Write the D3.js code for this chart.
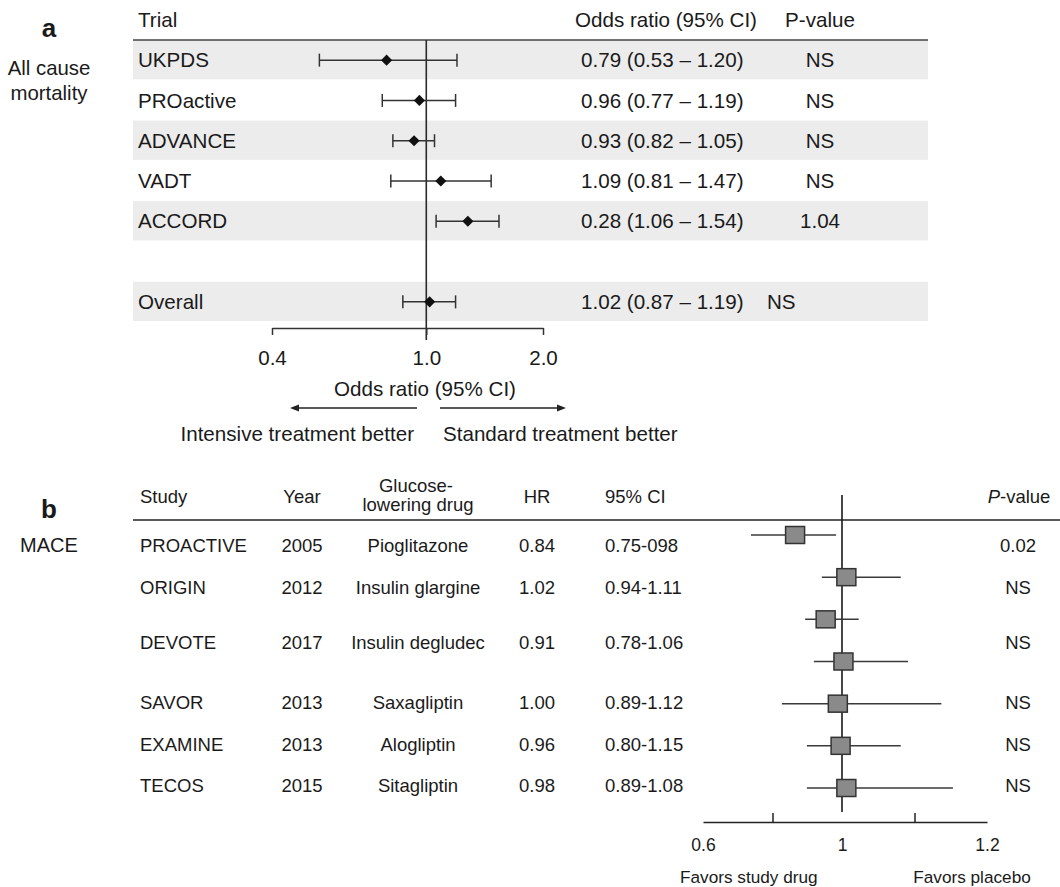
<!DOCTYPE html>
<html>
<head>
<meta charset="utf-8">
<script src="https://cdn.jsdelivr.net/npm/d3@7"></script>
<style>
  html, body { margin: 0; padding: 0; background: #fff; }
  svg { display: block; font-family: "Liberation Sans", Arial, Helvetica, sans-serif; }
  text { fill: #1a1a1a; }
</style>
</head>
<body>
<svg id="chart" width="1060" height="887"></svg>
<script>
// ---- Panel a: all-cause mortality, intensive vs standard glucose control ----
const trials   = ["UKPDS", "PROactive", "ADVANCE", "VADT", "ACCORD", "", "Overall"];
const orEst    = [0.79, 0.96, 0.93, 1.09, 1.28, null, 1.02];
const orLow    = [0.53, 0.77, 0.82, 0.81, 1.06, null, 0.87];
const orHigh   = [1.20, 1.19, 1.05, 1.47, 1.54, null, 1.19];
const orText   = ["0.79 (0.53 – 1.20)", "0.96 (0.77 – 1.19)", "0.93 (0.82 – 1.05)",
                  "1.09 (0.81 – 1.47)", "0.28 (1.06 – 1.54)", "", "1.02 (0.87 – 1.19)"];
const pTextA   = ["NS", "NS", "NS", "NS", "1.04", "", "NS"];
const orTicks  = [0.4, 1.0, 2.0];

// ---- Panel b: MACE in glucose-lowering drug trials ----
const studies  = ["PROACTIVE", "ORIGIN", "DEVOTE", "SAVOR", "EXAMINE", "TECOS"];
const years    = ["2005", "2012", "2017", "2013", "2013", "2015"];
const drugs    = ["Pioglitazone", "Insulin glargine", "Insulin degludec", "Saxagliptin", "Alogliptin", "Sitagliptin"];
const hrText   = ["0.84", "1.02", "0.91", "1.00", "0.96", "0.98"];
const ciText   = ["0.75-098", "0.94-1.11", "0.78-1.06", "0.89-1.12", "0.80-1.15", "0.89-1.08"];
const pTextB   = ["0.02", "NS", "NS", "NS", "NS", "NS"];
// hazard ratios and 95% CI of the plotted markers
const hrEst    = [0.865, 1.006, 0.953, 1.002, 0.988, 0.996, 1.006];
const hrLow    = [0.738, 0.942, 0.894, 0.919, 0.827, 0.899, 0.899];
const hrHigh   = [0.983, 1.081, 1.023, 1.091, 1.137, 1.081, 1.153];
const hrLabelTicks = [0.6, 1, 1.2];
const hrMinorTicks = [0.8, 1.1];

const svg = d3.select("#chart");
const INK = "#1a1a1a";
const LINE = "#2a2a2a";

// ================= Panel a =================
const ga = svg.append("g");
const xA = d3.scaleLog().domain([0.4, 2]).range([272, 543]);
const yA = d3.scaleBand().domain(d3.range(trials.length)).range([40, 322]);
const fsA = 20.6;

ga.append("text").attr("x", 49).attr("y", 37).attr("text-anchor", "middle")
  .attr("font-size", 26).attr("font-weight", "bold").text("a");
ga.append("text").attr("x", 49).attr("y", 75).attr("text-anchor", "middle")
  .attr("font-size", 20.4).text("All cause");
ga.append("text").attr("x", 49).attr("y", 100).attr("text-anchor", "middle")
  .attr("font-size", 20.4).text("mortality");

// alternate row shading
ga.selectAll("rect.band")
  .data(d3.range(trials.length).filter(i => i % 2 === 0))
  .join("rect").attr("class", "band")
  .attr("x", 133).attr("width", 928 - 133)
  .attr("y", i => yA(i)).attr("height", yA.bandwidth() - 1)
  .attr("fill", "#ececec");

// header
ga.append("text").attr("x", 138).attr("y", 27).attr("font-size", fsA).text("Trial");
ga.append("text").attr("x", 575).attr("y", 27).attr("font-size", fsA).text("Odds ratio (95% CI)");
ga.append("text").attr("x", 820).attr("y", 27).attr("text-anchor", "middle").attr("font-size", fsA).text("P-value");
ga.append("line").attr("x1", 133).attr("x2", 928).attr("y1", 40).attr("y2", 40)
  .attr("stroke", "#444").attr("stroke-width", 1.5);

// table columns
const rowY = i => yA(i) + yA.bandwidth() / 2;
ga.selectAll("text.trial").data(trials).join("text").attr("class", "trial")
  .attr("x", 138).attr("y", (d, i) => rowY(i)).attr("dy", "0.35em")
  .attr("font-size", fsA).text(d => d);
ga.selectAll("text.or").data(orText).join("text").attr("class", "or")
  .attr("x", 581).attr("y", (d, i) => rowY(i)).attr("dy", "0.35em")
  .attr("font-size", fsA).text(d => d);
ga.selectAll("text.pa").data(pTextA).join("text").attr("class", "pa")
  .attr("x", (d, i) => i === trials.length - 1 ? 767 : 820)
  .attr("text-anchor", (d, i) => i === trials.length - 1 ? "start" : "middle")
  .attr("y", (d, i) => rowY(i)).attr("dy", "0.35em")
  .attr("font-size", fsA).text(d => d);

// reference line at OR = 1
ga.append("line").attr("x1", xA(1)).attr("x2", xA(1)).attr("y1", 40).attr("y2", 340)
  .attr("stroke", LINE).attr("stroke-width", 1.6);

// confidence intervals with end caps, diamonds for estimates
const rowsA = d3.range(trials.length).filter(i => orEst[i] != null);
const ci = ga.selectAll("g.ci").data(rowsA).join("g").attr("class", "ci")
  .attr("stroke", "#333").attr("stroke-width", 1.5);
ci.append("line").attr("x1", i => xA(orLow[i])).attr("x2", i => xA(orHigh[i]))
  .attr("y1", rowY).attr("y2", rowY);
ci.append("line").attr("x1", i => xA(orLow[i])).attr("x2", i => xA(orLow[i]))
  .attr("y1", i => rowY(i) - 6.5).attr("y2", i => rowY(i) + 6.5);
ci.append("line").attr("x1", i => xA(orHigh[i])).attr("x2", i => xA(orHigh[i]))
  .attr("y1", i => rowY(i) - 6.5).attr("y2", i => rowY(i) + 6.5);
const diamond = d3.symbol(d3.symbolSquare, 62);
ga.selectAll("path.est").data(rowsA).join("path").attr("class", "est")
  .attr("d", diamond)
  .attr("transform", i => `translate(${xA(orEst[i])},${rowY(i)}) rotate(45)`)
  .attr("fill", "#111");

// x axis
const axA = ga.append("g").attr("transform", "translate(0,328)")
  .call(d3.axisBottom(xA).tickValues(orTicks).tickFormat(d3.format(".1f"))
    .tickSizeInner(7).tickSizeOuter(0).tickPadding(15));
axA.attr("font-family", null).attr("font-size", null);
axA.select(".domain").attr("stroke", "#333").attr("stroke-width", 1.5);
axA.selectAll(".tick line").attr("stroke", "#333").attr("stroke-width", 1.5);
axA.selectAll(".tick text").attr("font-size", fsA).attr("fill", INK);

ga.append("text").attr("x", 425).attr("y", 396).attr("text-anchor", "middle")
  .attr("font-size", fsA).text("Odds ratio (95% CI)");

// direction arrows
ga.append("line").attr("x1", 417).attr("x2", 297).attr("y1", 408).attr("y2", 408)
  .attr("stroke", "#222").attr("stroke-width", 1.5);
ga.append("path").attr("d", "M290,408L299,404.5L299,411.5Z").attr("fill", "#222");
ga.append("line").attr("x1", 440).attr("x2", 559).attr("y1", 408).attr("y2", 408)
  .attr("stroke", "#222").attr("stroke-width", 1.5);
ga.append("path").attr("d", "M566,408L557,404.5L557,411.5Z").attr("fill", "#222");
ga.append("text").attr("x", 414).attr("y", 441).attr("text-anchor", "end")
  .attr("font-size", fsA).text("Intensive treatment better");
ga.append("text").attr("x", 443).attr("y", 441)
  .attr("font-size", fsA).text("Standard treatment better");

// ================= Panel b =================
const gb = svg.append("g");
const fsB = 18.5;
const xB = d3.scaleLinear().domain([0.6, 1, 1.2]).range([703, 842, 987]);
const yB = d3.scaleLinear().domain([0, hrEst.length - 1]).range([535, 788]);
// table rows sit on fractional positions of the same vertical scale
const textSlots = [0.24, 1.23, 2.54, 3.96, 4.96, 5.93];
const rowYB = i => yB(textSlots[i]);

gb.append("text").attr("x", 49).attr("y", 518).attr("text-anchor", "middle")
  .attr("font-size", 26).attr("font-weight", "bold").text("b");
gb.append("text").attr("x", 49).attr("y", 552).attr("text-anchor", "middle")
  .attr("font-size", 20).text("MACE");

// header
gb.append("text").attr("x", 140).attr("y", 503).attr("font-size", fsB).text("Study");
gb.append("text").attr("x", 302).attr("y", 503).attr("text-anchor", "middle").attr("font-size", fsB).text("Year");
gb.append("text").attr("x", 416).attr("y", 492).attr("text-anchor", "middle").attr("font-size", fsB).text("Glucose-");
gb.append("text").attr("x", 418).attr("y", 511).attr("text-anchor", "middle").attr("font-size", fsB).text("lowering drug");
gb.append("text").attr("x", 537).attr("y", 503).attr("text-anchor", "middle").attr("font-size", fsB).text("HR");
gb.append("text").attr("x", 605).attr("y", 503).attr("font-size", fsB).text("95% CI");
const pv = gb.append("text").attr("x", 1019).attr("y", 503).attr("text-anchor", "middle").attr("font-size", fsB);
pv.append("tspan").attr("font-style", "italic").text("P");
pv.append("tspan").text("-value");
gb.append("line").attr("x1", 133).attr("x2", 1060).attr("y1", 520).attr("y2", 520)
  .attr("stroke", "#222").attr("stroke-width", 1.5);

// table columns
const cols = [
  { data: studies, x: 140, anchor: "start" },
  { data: years,   x: 302, anchor: "middle" },
  { data: drugs,   x: 418, anchor: "middle" },
  { data: hrText,  x: 537, anchor: "middle" },
  { data: ciText,  x: 605, anchor: "start" },
  { data: pTextB,  x: 1018, anchor: "middle" }
];
cols.forEach((c, k) => {
  gb.selectAll(`text.col${k}`).data(c.data).join("text").attr("class", `col${k}`)
    .attr("x", c.x).attr("text-anchor", c.anchor)
    .attr("y", (d, i) => rowYB(i)).attr("dy", "0.36em")
    .attr("font-size", fsB).text(d => d);
});

// reference line at HR = 1
gb.append("line").attr("x1", xB(1)).attr("x2", xB(1)).attr("y1", 495).attr("y2", 812)
  .attr("stroke", "#1a1a1a").attr("stroke-width", 1.6);

// whiskers and squares
const idxB = d3.range(hrEst.length);
gb.selectAll("line.whisk").data(idxB).join("line").attr("class", "whisk")
  .attr("x1", i => xB(hrLow[i])).attr("x2", i => xB(hrHigh[i]))
  .attr("y1", i => yB(i)).attr("y2", i => yB(i))
  .attr("stroke", "#3a3a3a").attr("stroke-width", 1.5);
gb.selectAll("rect.box").data(idxB).join("rect").attr("class", "box")
  .attr("x", i => xB(hrEst[i]) - 9.5).attr("y", i => yB(i) - 8.5)
  .attr("width", 19).attr("height", 17)
  .attr("fill", "#8a8a8a").attr("stroke", "#333").attr("stroke-width", 1.5);

// axis: line with inner ticks above, labels below
const axB = gb.append("g").attr("transform", "translate(0,822)")
  .call(d3.axisTop(xB).tickValues(hrMinorTicks).tickFormat("").tickSizeInner(9).tickSizeOuter(0));
axB.select(".domain").attr("stroke", "#222").attr("stroke-width", 1.5);
axB.selectAll(".tick line").attr("stroke", "#222").attr("stroke-width", 1.5);
const axBL = gb.append("g").attr("transform", "translate(0,822)")
  .call(d3.axisBottom(xB).tickValues(hrLabelTicks).tickFormat(d3.format("")).tickSize(0).tickPadding(16.5));
axBL.attr("font-family", null).attr("font-size", null);
axBL.select(".domain").remove();
axBL.selectAll(".tick text").attr("font-size", 17.5).attr("fill", INK);

gb.append("text").attr("x", 680).attr("y", 883).attr("font-size", 17.2).text("Favors study drug");
gb.append("text").attr("x", 972).attr("y", 883).attr("text-anchor", "middle").attr("font-size", 17.2).text("Favors placebo");
</script>
</body>
</html>
